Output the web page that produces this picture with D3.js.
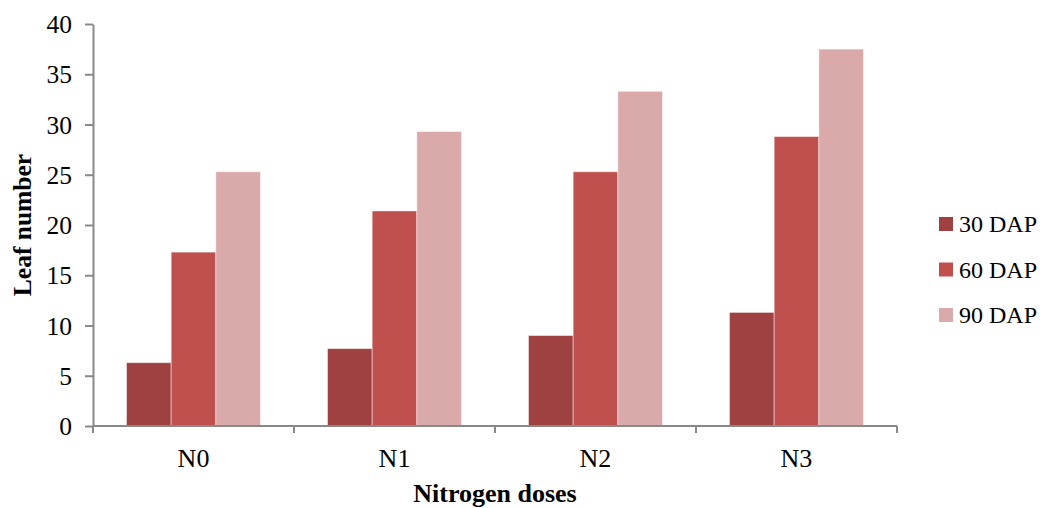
<!DOCTYPE html>
<html>
<head>
<meta charset="utf-8">
<script src="https://cdn.jsdelivr.net/npm/d3@7"></script>
<style>
  html, body { margin: 0; padding: 0; background: #fff; }
  svg { display: block; font-family: "Liberation Serif", "Times New Roman", serif; }
</style>
</head>
<body>
<svg id="chart" width="1048" height="508"></svg>
<script>
// Leaf number by nitrogen dose at three sampling dates
const categories = ["N0", "N1", "N2", "N3"];
const seriesNames = ["30 DAP", "60 DAP", "90 DAP"];
const dap30 = [6.3, 7.7, 9.0, 11.3];
const dap60 = [17.3, 21.4, 25.3, 28.8];
const dap90 = [25.3, 29.3, 33.3, 37.5];
const yTicks = [0, 5, 10, 15, 20, 25, 30, 35, 40];
const colors = ["#9e4140", "#c0504d", "#daa9aa"];

const series = [dap30, dap60, dap90];

const svg = d3.select("#chart");
const margin = { left: 93, right: 151, top: 24, bottom: 82 };
const W = 1048, H = 508;
const serif = "Liberation Serif, Times New Roman, serif";

const x = d3.scaleBand()
  .domain(categories)
  .range([margin.left, W - margin.right])
  .paddingInner(0.3333)
  .paddingOuter(0.16667);

const inner = d3.scaleBand()
  .domain(seriesNames)
  .range([0, x.bandwidth()]);

const y = d3.scaleLinear()
  .domain([0, 40])
  .range([H - margin.bottom, margin.top]);

const axisColor = "#898989";

// bars
const groups = svg.append("g")
  .selectAll("g")
  .data(categories)
  .join("g")
  .attr("transform", d => `translate(${x(d)},0)`);

groups.selectAll("rect")
  .data((c, i) => seriesNames.map((s, j) => ({ s, j, v: series[j][i] })))
  .join("rect")
  .attr("x", d => inner(d.s))
  .attr("width", inner.bandwidth())
  .attr("y", d => y(d.v))
  .attr("height", d => y(0) - y(d.v))
  .attr("fill", d => colors[d.j])
  .attr("stroke", "rgba(255,255,255,0.45)")
  .attr("stroke-width", 1);

// y axis
const yAxis = svg.append("g")
  .attr("transform", `translate(${margin.left},0)`)
  .call(d3.axisLeft(y).tickValues(yTicks).tickSize(8).tickPadding(13).tickSizeOuter(0));
yAxis.select(".domain").attr("stroke", axisColor).attr("stroke-width", 2);
yAxis.selectAll(".tick line").attr("stroke", axisColor).attr("stroke-width", 2);
yAxis.selectAll(".tick text")
  .attr("fill", "#000")
  .attr("dy", "0.34em")
  .style("font-size", "25.5px")
  .style("font-family", serif);

// x axis with boundary ticks between categories
const xAxisG = svg.append("g").attr("transform", `translate(0,${y(0)})`);
xAxisG.append("line")
  .attr("x1", margin.left).attr("x2", W - margin.right)
  .attr("y1", 0).attr("y2", 0)
  .attr("stroke", axisColor).attr("stroke-width", 2);
const step = x.step();
const bounds = d3.range(categories.length + 1).map(i => margin.left + i * step);
xAxisG.selectAll("line.b")
  .data(bounds)
  .join("line")
  .attr("class", "b")
  .attr("x1", d => d).attr("x2", d => d)
  .attr("y1", 0).attr("y2", 7)
  .attr("stroke", axisColor).attr("stroke-width", 2);
xAxisG.selectAll("text")
  .data(categories)
  .join("text")
  .attr("x", d => x(d) + x.bandwidth() / 2)
  .attr("y", 41)
  .attr("text-anchor", "middle")
  .style("font-size", "26px")
  .text(d => d);

// axis titles
svg.append("text")
  .attr("x", (margin.left + W - margin.right) / 2)
  .attr("y", 502)
  .attr("text-anchor", "middle")
  .style("font-size", "26px")
  .style("font-weight", "bold")
  .text("Nitrogen doses");

svg.append("text")
  .attr("transform", `translate(31,${(y(0) + y(40)) / 2}) rotate(-90)`)
  .attr("text-anchor", "middle")
  .style("font-size", "25.5px")
  .style("font-weight", "bold")
  .text("Leaf number");

// legend
const legend = svg.append("g").attr("transform", "translate(939,224)");
const items = legend.selectAll("g")
  .data(seriesNames)
  .join("g")
  .attr("transform", (d, i) => `translate(0,${i * 45.5})`);
items.append("rect")
  .attr("x", 0).attr("y", -7)
  .attr("width", 14).attr("height", 14)
  .attr("fill", (d, i) => colors[i]);
items.append("text")
  .attr("x", 20).attr("y", 8)
  .style("font-size", "24px")
  .text(d => d);
</script>
</body>
</html>
